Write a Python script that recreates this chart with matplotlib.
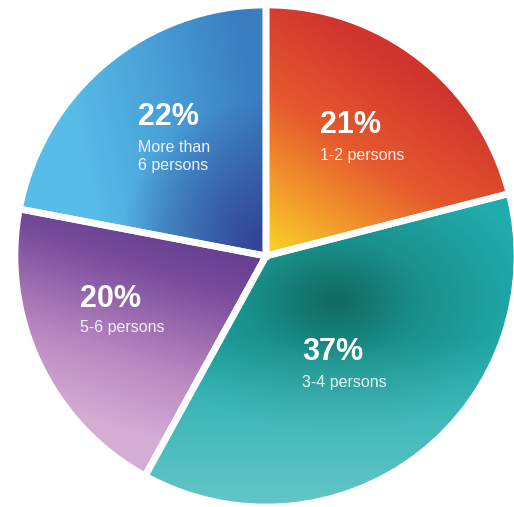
import numpy as np
import matplotlib
matplotlib.use('Agg')
import matplotlib.pyplot as plt

# ---- data ----
categories = ['1-2 persons', '3-4 persons', '5-6 persons', 'More than\n6 persons']
shares = [21, 37, 20, 22]
pct_labels = ['21%', '37%', '20%', '22%']

W, H = 514, 507
fig = plt.figure(figsize=(W / 100, H / 100), dpi=100)
ax = fig.add_axes([0, 0, 1, 1])
cx, cy_px, R = 266, 256, 251
cy = H - cy_px

wedges, _ = ax.pie(shares, startangle=90, counterclock=False,
                   center=(cx, cy), radius=R, colors=['none'] * 4,
                   wedgeprops=dict(edgecolor='white', linewidth=4.8), frame=True)
ax.set_xlim(0, W)
ax.set_ylim(0, H)
ax.set_aspect('equal')
ax.axis('off')

# pixel grid (y from top)
X, Y = np.meshgrid(np.arange(W) + 0.5, np.arange(H) + 0.5)


def lin_t(p0, p1):
    d = np.array(p1, float) - np.array(p0, float)
    t = ((X - p0[0]) * d[0] + (Y - p0[1]) * d[1]) / (d @ d)
    return np.clip(t, 0, 1)


def ramp(t, stops):
    pos = [s[0] for s in stops]
    cols = np.array([s[1] for s in stops], float) / 255.0
    out = np.zeros(t.shape + (3,))
    for k in range(3):
        out[..., k] = np.interp(t, pos, cols[:, k])
    return out


def mix(a, color, w):
    return a * (1 - w[..., None]) + np.array(color, float) / 255.0 * w[..., None]


# 1-2 persons : yellow -> orange -> red
t = lin_t((278, 248), (400, 60))
img_red = ramp(t, [(0, (247, 205, 40)), (0.25, (242, 150, 45)),
                   (0.55, (230, 90, 45)), (1, (208, 52, 45))])

# 3-4 persons : dark teal near top, lighter aqua bottom
d = np.hypot((X - 335) * 0.8, (Y - 300) * 1.2)
tr = np.clip(d / 160, 0, 1)
base = ramp(tr, [(0, (16, 105, 95)), (0.45, (26, 145, 140)), (1, (32, 172, 172))])
w = np.clip((Y - 340) / 160, 0, 1) * 0.75
img_teal = mix(base, (120, 205, 208), w)

# 5-6 persons : dark purple top -> lilac bottom
t = lin_t((180, 205), (110, 425))
img_purple = ramp(t, [(0, (88, 55, 140)), (0.3, (120, 75, 155)),
                      (0.7, (185, 135, 192)), (1, (212, 172, 212))])

# more than 6 : sky blue left -> medium blue, indigo near centre
t = lin_t((80, 160), (262, 120))
base = ramp(t, [(0, (88, 188, 232)), (0.5, (72, 160, 215)), (1, (58, 125, 192))])
dc = np.hypot(X - 262, Y - 240)
w = np.clip(1 - dc / 140, 0, 1) ** 0.9
img_blue = mix(base, (50, 68, 148), w)

for wedge, img in zip(wedges, [img_red, img_teal, img_purple, img_blue]):
    im = ax.imshow(img, extent=(0, W, 0, H), origin='upper', zorder=0.5,
                   interpolation='bilinear')
    im.set_clip_path(wedge)
    wedge.set_zorder(2)

ax.set_xlim(0, W)
ax.set_ylim(0, H)

fam = ['Liberation Sans', 'DejaVu Sans']
# label positions in pixel coords (left, baseline of pct, baseline of first label line)
pos = [(320, 133, 160), (302, 360, 387), (80, 307, 332), (138, 125, 152)]
line_gap = 18
for (x, yb1, yb2), pct, cat in zip(pos, pct_labels, categories):
    ax.text(x, H - yb1, pct, color='white', fontsize=22, fontweight='bold',
            family=fam, ha='left', va='baseline', zorder=3)
    for i, line in enumerate(cat.split('\n')):
        ax.text(x, H - (yb2 + i * line_gap), line, color='white', alpha=0.9,
                fontsize=11.5, family=fam, ha='left', va='baseline', zorder=3)

fig.savefig('out.png', dpi=100)
